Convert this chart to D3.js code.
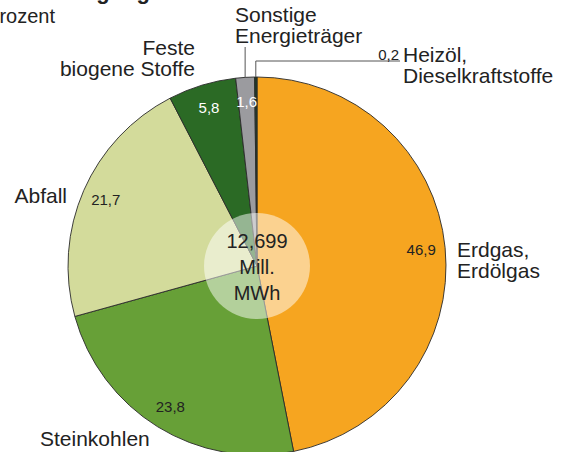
<!DOCTYPE html>
<html>
<head>
<meta charset="utf-8">
<script src="https://cdn.jsdelivr.net/npm/d3@7"></script>
<style>
    body { margin: 0; background: #fff; }
    svg { display: block; font-family: "Liberation Sans", Arial, Helvetica, sans-serif; }
</style>
</head>
<body>
<div id="chart"></div>
<script>
// data
const categories = ["Erdgas", "Steinkohlen", "Abfall", "Feste biogene Stoffe", "Sonstige Energieträger", "Heizöl"];
const shares = [46.9, 23.8, 21.7, 5.8, 1.6, 0.2];
const labelLines = [
    ["Erdgas,", "Erdölgas"],
    ["Steinkohlen"],
    ["Abfall"],
    ["Feste", "biogene Stoffe"],
    ["Sonstige", "Energieträger"],
    ["Heizöl,", "Dieselkraftstoffe"]
];
const totalLines = ["12,699", "Mill.", "MWh"];
const titleText = "Wärmeerzeugung";
const unitText = "in Prozent";

// styles / layout
const colors = ["#f6a520", "#67a037", "#d3db9b", "#2b6a25", "#9b9b9f", "#1e3b28"];
const valueColors = ["#222", "#222", "#222", "#fff", "#fff", "#222"];

const width = 565, height = 452;
const cx = 257, cy = 266, radius = 189, labelRadius = 165;

// outer label placement, offsets from the pie centre
const placement = {
    "Erdgas": {dx: 200, dy: -9, anchor: "start"},
    "Steinkohlen": {dx: -217, dy: 180, anchor: "start"},
    "Abfall": {dx: -190, dy: -63, anchor: "end"},
    "Feste biogene Stoffe": {dx: -62, dy: -211, anchor: "end"},
    "Sonstige Energieträger": {dx: -22, dy: -244, anchor: "start", leaderTop: -219},
    "Heizöl": {dx: 146, dy: -204, anchor: "start", leaderTop: -205, leaderEnd: 143, valueOutside: true}
};

const data = categories.map((c, i) => ({name: c, value: shares[i], lines: labelLines[i], color: colors[i], textColor: valueColors[i]}));

const fmt = v => d3.format(".1f")(v).replace(".", ",");

const svg = d3.select("#chart").append("svg")
    .attr("width", width)
    .attr("height", height);

// cut-off title and unit
svg.append("text")
    .attr("x", 150).attr("y", -1)
    .attr("text-anchor", "end")
    .attr("font-size", 22).attr("font-weight", "bold").attr("fill", "#222")
    .text(titleText);
svg.append("text")
    .attr("x", 55).attr("y", 23)
    .attr("text-anchor", "end")
    .attr("font-size", 20).attr("fill", "#222")
    .text(unitText);

const g = svg.append("g")
    .attr("transform", "translate(" + cx + "," + cy + ")");

const pie = d3.pie()
    .value(d => d.value)
    .sort(null);

const arc = d3.arc()
    .innerRadius(0)
    .outerRadius(radius);

const labelArc = d3.arc()
    .innerRadius(labelRadius)
    .outerRadius(labelRadius);

const edgeArc = d3.arc()
    .innerRadius(radius)
    .outerRadius(radius);

const arcs = pie(data);

g.selectAll("path.slice")
    .data(arcs)
    .enter()
    .append("path")
    .attr("class", "slice")
    .attr("d", arc)
    .attr("fill", d => d.data.color)
    .attr("stroke", "#2a2a2a")
    .attr("stroke-width", 0.9);

// leader lines
arcs.forEach(function (d) {
    let p = placement[d.data.name];
    if (p.leaderTop === undefined) return;
    let e = edgeArc.centroid(d);
    let pts = [[e[0], e[1]], [e[0], p.leaderTop]];
    if (p.leaderEnd !== undefined) pts.push([p.leaderEnd, p.leaderTop]);
    g.append("path")
        .attr("d", d3.line()(pts))
        .attr("fill", "none")
        .attr("stroke", "#555")
        .attr("stroke-width", 1);
});

// value labels
g.selectAll("text.value")
    .data(arcs)
    .enter()
    .append("text")
    .attr("class", "value")
    .attr("font-size", 15)
    .attr("fill", d => d.data.textColor)
    .attr("text-anchor", d => placement[d.data.name].valueOutside ? "end" : "middle")
    .attr("dy", d => placement[d.data.name].valueOutside ? 0 : "0.35em")
    .attr("transform", function (d) {
        let p = placement[d.data.name];
        if (p.valueOutside) return "translate(" + (p.dx - 4) + "," + (p.leaderTop - 1) + ")";
        return "translate(" + labelArc.centroid(d) + ")";
    })
    .text(d => fmt(d.data.value));

// category labels
g.selectAll("text.cat")
    .data(arcs)
    .enter()
    .append("text")
    .attr("class", "cat")
    .attr("font-size", 21)
    .attr("fill", "#222")
    .attr("text-anchor", d => placement[d.data.name].anchor)
    .each(function (d) {
        let p = placement[d.data.name];
        d3.select(this).selectAll("tspan")
            .data(d.data.lines)
            .enter()
            .append("tspan")
            .attr("x", p.dx)
            .attr("y", (l, i) => p.dy + i * 21)
            .text(l => l);
    });

// centre disc with total
g.append("circle")
    .attr("r", 53)
    .attr("fill", "#fff")
    .attr("fill-opacity", 0.5);

g.append("text")
    .attr("text-anchor", "middle")
    .attr("font-size", 20)
    .attr("fill", "#222")
    .selectAll("tspan")
    .data(totalLines)
    .enter()
    .append("tspan")
    .attr("x", 0)
    .attr("y", (l, i) => -18 + i * 26)
    .text(l => l);
</script>
</body>
</html>
